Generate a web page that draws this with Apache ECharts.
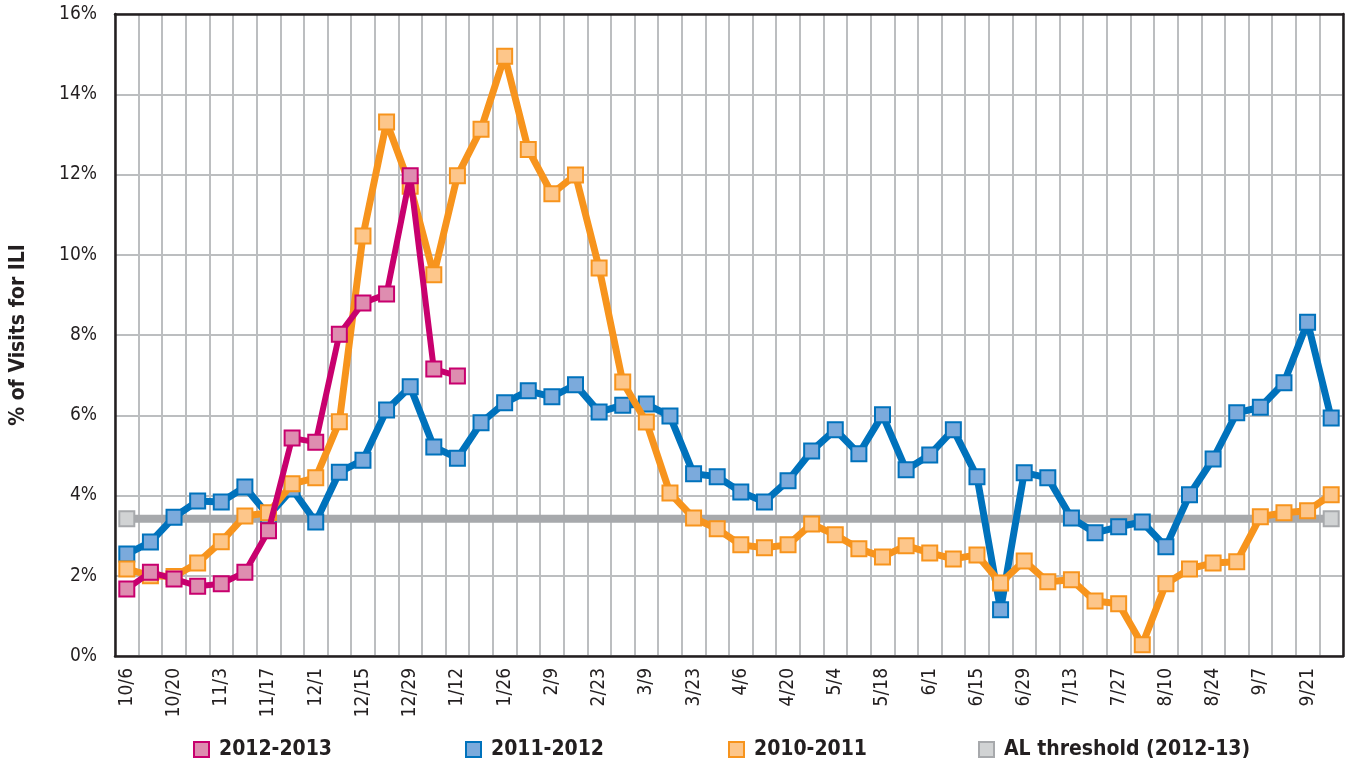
<!DOCTYPE html>
<html>
<head>
<meta charset="utf-8">
<title>ILI visits</title>
<style>
  html, body { margin: 0; padding: 0; background: #fff; }
  #chart { width: 1346px; height: 760px; }
</style>
</head>
<body>
<div id="chart"></div>
<script src="https://cdn.jsdelivr.net/npm/echarts@6/dist/echarts.min.js"></script>
<script>
var weeks = ['10/6','10/13','10/20','10/27','11/3','11/10','11/17','11/24','12/1','12/8',
  '12/15','12/22','12/29','1/5','1/12','1/19','1/26','2/2','2/9','2/16',
  '2/23','3/2','3/9','3/16','3/23','3/30','4/6','4/13','4/20','4/27',
  '5/4','5/11','5/18','5/25','6/1','6/8','6/15','6/22','6/29','7/6',
  '7/13','7/20','7/27','8/3','8/10','8/17','8/24','8/31','9/7','9/14',
  '9/21','9/28'];

var s2012 = [1.67, 2.09, 1.92, 1.74, 1.80, 2.09, 3.12, 5.43, 5.33, 8.02,
  8.80, 9.02, 11.97, 7.15, 6.98];

var s2011 = [2.54, 2.84, 3.46, 3.86, 3.84, 4.21, 3.50, 4.16, 3.34, 4.58,
  4.88, 6.13, 6.71, 5.21, 4.93, 5.81, 6.31, 6.61, 6.46, 6.76,
  6.08, 6.25, 6.28, 5.98, 4.54, 4.47, 4.09, 3.84, 4.37, 5.11,
  5.64, 5.04, 6.01, 4.64, 5.01, 5.64, 4.47, 1.15, 4.57, 4.44,
  3.44, 3.07, 3.22, 3.34, 2.72, 4.02, 4.91, 6.06, 6.20, 6.81,
  8.32, 5.93];

var s2010 = [2.17, 2.00, 1.98, 2.32, 2.85, 3.49, 3.57, 4.29, 4.44, 5.84,
  10.47, 13.31, 11.71, 9.50, 11.97, 13.13, 14.95, 12.62, 11.52, 11.99,
  9.67, 6.83, 5.83, 4.06, 3.44, 3.17, 2.77, 2.70, 2.77, 3.29,
  3.02, 2.67, 2.47, 2.75, 2.57, 2.42, 2.52, 1.82, 2.37, 1.85,
  1.90, 1.37, 1.30, 0.28, 1.80, 2.17, 2.32, 2.35, 3.47, 3.57,
  3.62, 4.02];

var thresholdValue = 3.42;

var seriesNames = ['2012-2013', '2011-2012', '2010-2011', 'AL threshold (2012-13)'];

var FONT = "'DejaVu Sans Condensed', 'Liberation Sans', sans-serif";
var INK = '#231F20';

// threshold line: markers only at both ends
var thresholdData = weeks.map(function(w, i) {
  var ends = (i === 0 || i === weeks.length - 1);
  return { value: thresholdValue, symbol: ends ? 'rect' : 'none' };
});

function lineSeries(name, data, lineColor, fillColor, width, z) {
  return {
    name: name,
    type: 'line',
    data: data,
    z: z,
    symbol: 'rect',
    symbolSize: 15,
    showAllSymbol: true,
    animation: false,
    lineStyle: { color: lineColor, width: width },
    itemStyle: { color: fillColor, borderColor: lineColor, borderWidth: 2 }
  };
}

// one legend per item so each sits where it does in the original
var legendLefts = [188, 460, 723, 973];
var legends = seriesNames.map(function(n, i) {
  return {
    left: legendLefts[i], top: 734,
    itemWidth: 15, itemHeight: 15,
    icon: 'rect',
    textStyle: {
      fontFamily: FONT, fontSize: 21, fontWeight: 'bold', color: INK,
      padding: [0, 0, 0, 5]
    },
    data: [n]
  };
});

var chart = echarts.init(document.getElementById('chart'));
chart.setOption({
  backgroundColor: '#fff',
  textStyle: { fontFamily: FONT, color: INK },
  grid: { left: 113, right: 3, top: 14, bottom: 104 },
  legend: legends,
  xAxis: [{
    type: 'category',
    data: weeks,
    boundaryGap: true,
    axisLine: { onZero: false, lineStyle: { color: INK, width: 2.5 } },
    axisTick: { show: false },
    axisLabel: {
      interval: 1, rotate: 90, margin: 12,
      fontFamily: FONT, fontSize: 19, color: INK
    },
    splitLine: { show: true, interval: 0, lineStyle: { color: '#BCBEC0', width: 2 } }
  }, {
    // top border
    type: 'category',
    data: weeks,
    position: 'top',
    z: 5,
    axisLine: { show: true, onZero: false, lineStyle: { color: INK, width: 2.5 } },
    axisTick: { show: false },
    axisLabel: { show: false },
    splitLine: { show: false }
  }],
  yAxis: [{
    type: 'value',
    min: 0, max: 16, interval: 2,
    name: '% of Visits for ILI',
    nameLocation: 'middle',
    nameGap: 86,
    nameTextStyle: { fontFamily: FONT, fontSize: 21, fontWeight: 'bold', color: INK },
    axisLine: { show: true, lineStyle: { color: INK, width: 2.5 } },
    axisTick: { show: false },
    axisLabel: {
      formatter: '{value}%', margin: 18,
      fontFamily: FONT, fontSize: 19, color: INK
    },
    splitLine: { lineStyle: { color: '#BCBEC0', width: 2 } }
  }, {
    // right border
    type: 'value',
    min: 0, max: 16, interval: 2,
    position: 'right',
    z: 5,
    axisLine: { show: true, lineStyle: { color: INK, width: 2.5 } },
    axisTick: { show: false },
    axisLabel: { show: false },
    splitLine: { show: false }
  }],
  series: [
    lineSeries('2012-2013', s2012, '#C8006E', '#DE8DB0', 6, 5),
    lineSeries('2011-2012', s2011, '#0072BC', '#7BAADC', 7, 3),
    lineSeries('2010-2011', s2010, '#F7941D', '#FDC68A', 7, 4),
    {
      name: 'AL threshold (2012-13)',
      type: 'line',
      data: thresholdData,
      z: 2,
      symbolSize: 15,
      showAllSymbol: true,
      animation: false,
      lineStyle: { color: '#A7A9AC', width: 8 },
      itemStyle: { color: '#D1D3D4', borderColor: '#A7A9AC', borderWidth: 2 }
    }
  ]
});
</script>
</body>
</html>
